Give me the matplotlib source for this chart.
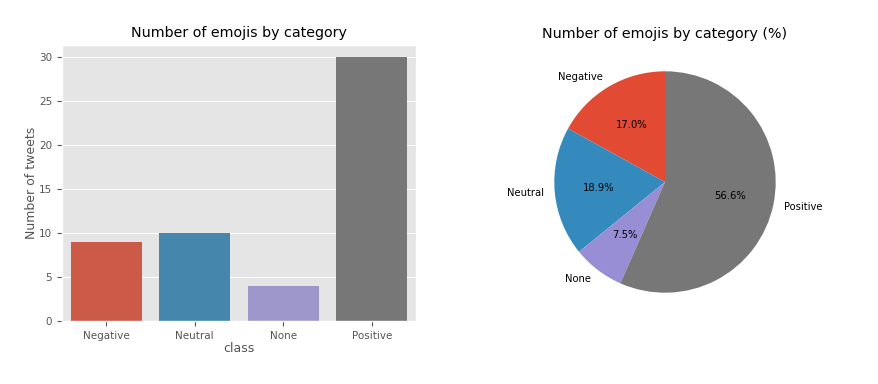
import colorsys
import matplotlib
matplotlib.use("Agg")
import matplotlib.pyplot as plt
import matplotlib.colors as mcolors

plt.style.use("ggplot")

# data
categories = ["Negative", "Neutral", "None", "Positive"]
counts = [9, 10, 4, 30]
colors = ["#E24A33", "#348ABD", "#988ED5", "#777777"]


def desaturate(c, prop=0.75):
    # same idea as seaborn's saturation=0.75 on bars
    r, g, b = mcolors.to_rgb(c)
    h, l, s = colorsys.rgb_to_hls(r, g, b)
    return colorsys.hls_to_rgb(h, l, s * prop)


fig = plt.figure(figsize=(8.79, 3.84), dpi=100)

# bar chart
ax1 = fig.add_axes([62 / 879, 63 / 384, 354 / 879, 276 / 384])
x = range(len(categories))
ax1.bar(x, counts, width=0.8, color=[desaturate(c) for c in colors])
ax1.set_xticks(list(x))
ax1.set_xticklabels(categories)
ax1.set_xlim(-0.5, len(categories) - 0.5)
ax1.set_ylim(0, 31.4)
ax1.grid(axis="x", visible=False)
ax1.tick_params(labelsize=7.5, colors="#555555")
ax1.set_xlabel("class", fontsize=9, color="#555555", labelpad=1)
ax1.set_ylabel("Number of tweets", fontsize=9, color="#555555", labelpad=1)
ax1.set_title("Number of emojis by category", fontsize=10.3, color="black")

# pie chart
r = 110.7
cx, cy = 665, 384 - 182
side = 2.5 * r
ax2 = fig.add_axes([(cx - side / 2) / 879, (cy - side / 2) / 384, side / 879, side / 384])
ax2.pie(counts, labels=categories, colors=colors, autopct="%1.1f%%", startangle=90,
        textprops={"fontsize": 7.2, "color": "black"})
ax2.set_aspect("equal")
ax2.set_title("Number of emojis by category (%)", fontsize=10.3, color="black", pad=4)

fig.savefig("out.png", dpi=100)
